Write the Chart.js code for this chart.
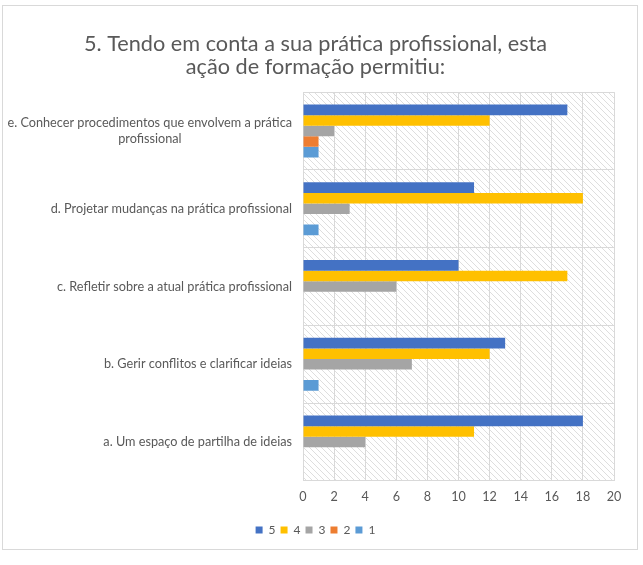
<!DOCTYPE html>
<html>
<head>
<meta charset="utf-8">
<script src="https://cdn.jsdelivr.net/npm/chart.js@4"></script>
<style>
  body { margin: 0; background: #fff; }
  #wrap { width: 643px; height: 565px; }
</style>
</head>
<body>
<div id="wrap"><canvas id="chart" width="643" height="565"></canvas></div>
<script>
const categories = [
  ["e. Conhecer procedimentos que envolvem a prática", "profissional"],
  "d. Projetar mudanças na prática profissional",
  "c. Refletir sobre a atual prática profissional",
  "b. Gerir conflitos e clarificar ideias",
  "a. Um espaço de partilha de ideias"
];
const seriesNames = ["5", "4", "3", "2", "1"];
const values5 = [17, 11, 10, 13, 18];
const values4 = [12, 18, 17, 12, 11];
const values3 = [2, 3, 6, 7, 4];
const values2 = [1, 0, 0, 0, 0];
const values1 = [1, 1, 0, 1, 0];
const colors = ["#4472C4", "#FFC000", "#A5A5A5", "#ED7D31", "#5B9BD5"];

const FONT = "Lato, 'Open Sans', sans-serif";
const TEXT = "#595959";
const TICK_SIZE = 12.7;

// hatch pattern for the plot area
function makeHatch() {
  const c = document.createElement("canvas");
  c.width = 6; c.height = 6;
  const g = c.getContext("2d");
  g.fillStyle = "#fff";
  g.fillRect(0, 0, 6, 6);
  g.strokeStyle = "#dedede";
  g.lineWidth = 1;
  g.beginPath();
  g.moveTo(-1, -1); g.lineTo(7, 7);
  g.moveTo(-1, 5); g.lineTo(1, 7);
  g.moveTo(5, -1); g.lineTo(7, 1);
  g.stroke();
  return c;
}

// center the later lines of a wrapped label under the first one
const measure = document.createElement("canvas").getContext("2d");
function centerLines(label) {
  if (!Array.isArray(label)) return label;
  measure.font = TICK_SIZE + "px " + FONT;
  const full = measure.measureText(label[0]).width;
  const space = measure.measureText(" ").width;
  return label.map((line, i) => {
    if (i === 0) return line;
    const w = measure.measureText(line).width;
    return line + " ".repeat(Math.max(0, Math.round((full - w) / 2 / space)));
  });
}

const backdrop = {
  id: "backdrop",
  beforeDraw(chart) {
    const ctx = chart.ctx;
    const a = chart.chartArea;
    ctx.save();
    ctx.fillStyle = "#fff";
    ctx.fillRect(0, 0, chart.width, chart.height);
    ctx.strokeStyle = "#d9d9d9";
    ctx.lineWidth = 1;
    ctx.strokeRect(2.5, 5.5, 635, 544);
    ctx.fillStyle = ctx.createPattern(makeHatch(), "repeat");
    ctx.fillRect(a.left, a.top, a.right - a.left, a.bottom - a.top);
    ctx.restore();
  }
};

const allValues = [values5, values4, values3, values2, values1];

new Chart(document.getElementById("chart"), {
  type: "bar",
  data: {
    labels: categories,
    datasets: seriesNames.map((name, i) => ({
      label: name,
      data: allValues[i],
      backgroundColor: colors[i],
      borderWidth: 0,
      categoryPercentage: 0.68,
      barPercentage: 1.0
    }))
  },
  options: {
    indexAxis: "y",
    responsive: false,
    animation: false,
    layout: { padding: { top: 33, bottom: 19, left: 17, right: 29 } },
    plugins: {
      title: {
        display: true,
        text: ["5. Tendo em conta a sua prática profissional, esta", "ação de formação permitiu:"],
        color: TEXT,
        font: { family: FONT, size: 21.7, weight: "normal", lineHeight: 1.04 },
        padding: { top: 0, bottom: 14 }
      },
      legend: {
        position: "bottom",
        labels: {
          color: TEXT,
          boxWidth: 7,
          boxHeight: 7,
          padding: 5,
          font: { family: FONT, size: 12 }
        }
      },
      tooltip: { enabled: false }
    },
    scales: {
      x: {
        min: 0,
        max: 20,
        afterFit(scale) { scale.height += 7; },
        ticks: { stepSize: 2, color: TEXT, font: { family: FONT, size: 12.6 }, padding: 8 },
        grid: { color: "#d9d9d9", drawTicks: false },
        border: { display: false }
      },
      y: {
        afterFit(scale) {
          scale.width = 286;
          // the long label reaches into the left padding: don't clip it
          scale._computeLabelArea = () => undefined;
        },
        ticks: {
          color: TEXT,
          font: { family: FONT, size: TICK_SIZE },
          padding: 11,
          callback(value) { return centerLines(this.getLabelForValue(value)); }
        },
        grid: { color: "#d9d9d9", drawTicks: false, offset: true },
        border: { display: false }
      }
    }
  },
  plugins: [backdrop]
});
</script>
</body>
</html>
